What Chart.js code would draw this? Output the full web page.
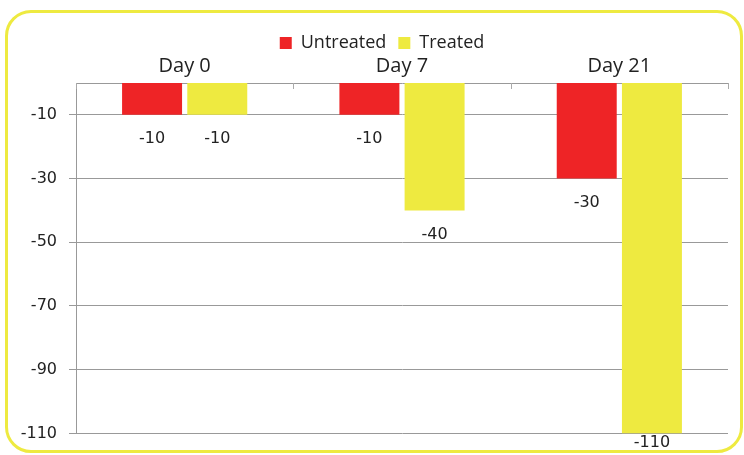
<!DOCTYPE html>
<html><head><meta charset="utf-8">
<script src="https://cdn.jsdelivr.net/npm/chart.js@4"></script>
<style>
html,body{margin:0;padding:0;background:#fff;}
#wrap{position:relative;width:744px;height:455px;overflow:hidden;}
#frame{position:absolute;left:5px;top:10px;width:738px;height:443px;box-sizing:border-box;border:3px solid #eeea40;border-radius:26px;}
canvas{position:absolute;left:0;top:0;}
</style></head><body>
<div id="wrap"><div id="frame"></div><canvas id="c" width="744" height="455"></canvas></div>
<script>
const categories = ["Day 0", "Day 7", "Day 21"];
const untreated = [-10, -10, -30];
const treated = [-10, -40, -110];
const yTicks = [-10, -30, -50, -70, -90, -110];

const valueLabels = {
  id: 'valueLabels',
  afterDatasetsDraw(chart) {
    const ctx = chart.ctx;
    const maxY = chart.chartArea.bottom + 9;
    ctx.save();
    ctx.font = '16px "DejaVu Sans"';
    ctx.fillStyle = '#222';
    ctx.textAlign = 'center';
    ctx.textBaseline = 'middle';
    chart.data.datasets.forEach((ds, di) => {
      chart.getDatasetMeta(di).data.forEach((bar, i) => {
        ctx.fillText(String(ds.data[i]), bar.x, Math.min(bar.y + 24, maxY));
      });
    });
    ctx.restore();
  }
};
const xTickMarks = {
  id: 'xTickMarks',
  afterLayout(chart) {
    const lg = chart.legend;
    const dy = 42 - (lg.top + lg.height / 2);
    lg.left += 36; lg.top += dy; lg.bottom += dy;
  },
  afterDraw(chart) {
    const x = chart.scales.x, ctx = chart.ctx, top = chart.chartArea.top;
    ctx.save();
    ctx.strokeStyle = '#aaa'; ctx.lineWidth = 1;
    for (let i = 0; i <= categories.length; i++) {
      const px = Math.round(x.getPixelForValue(i - 0.5)) + 0.5;
      ctx.beginPath(); ctx.moveTo(px, top); ctx.lineTo(px, top + 6); ctx.stroke();
    }
    ctx.restore();
  }
};

new Chart(document.getElementById('c'), {
  type: 'bar',
  data: {
    labels: categories,
    datasets: [
      {label: 'Untreated', data: untreated, backgroundColor: '#ee2426'},
      {label: 'Treated', data: treated, backgroundColor: '#eeea40'}
    ]
  },
  options: {
    responsive: false,
    animation: false,
    layout: {padding: {left: 0, right: 16, top: 9, bottom: 21}},
    datasets: {bar: {categoryPercentage: 0.6, barPercentage: 0.92}},
    plugins: {
      legend: {
        position: 'top',
        labels: {boxWidth: 12, boxHeight: 12, padding: 12, color: '#222',
          font: {family: '"Open Sans"', size: 18}}
      },
      tooltip: {enabled: false}
    },
    scales: {
      x: {
        position: 'top',
        grid: {display: false, tickLength: 0},
        border: {display: true, color: '#999'},
        ticks: {color: '#222', padding: 5, font: {family: '"Open Sans"', size: 20}},
        afterFit(s) { s.height = 34; }
      },
      y: {
        min: -110, max: 0,
        afterBuildTicks(s) { s.ticks = yTicks.map(v => ({value: v})); },
        grid: {color: '#999', tickLength: 7},
        border: {display: true, color: '#999'},
        ticks: {color: '#222', padding: 12, font: {family: '"DejaVu Sans"', size: 16}},
        afterFit(s) { s.width = 76; }
      }
    }
  },
  plugins: [valueLabels, xTickMarks]
});
</script>
</body></html>
